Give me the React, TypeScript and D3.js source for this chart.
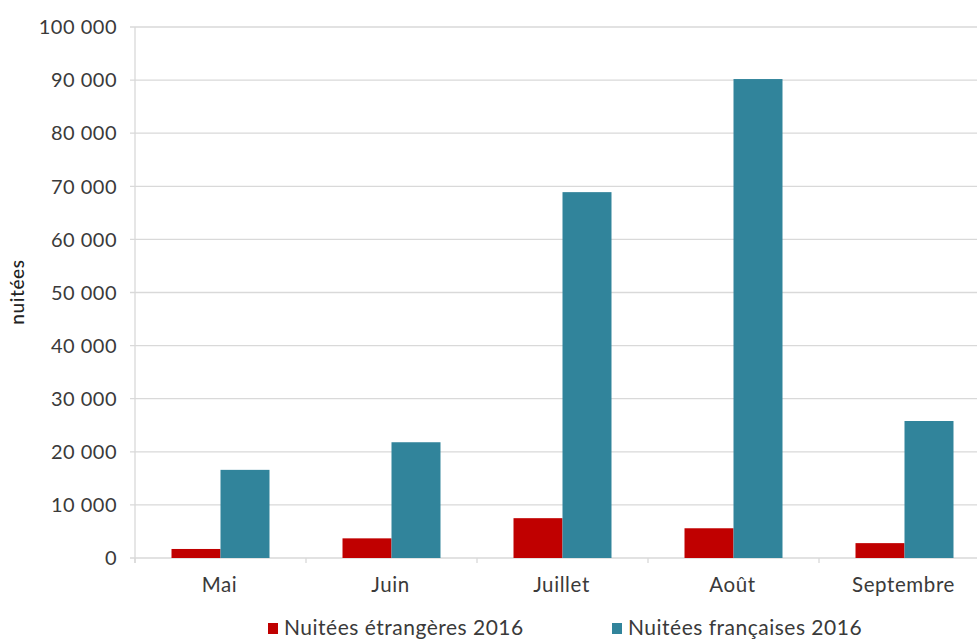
import React from "react";
import * as d3 from "d3";

const categories = ["Mai", "Juin", "Juillet", "Août", "Septembre"];
const etrangeres = [1700, 3700, 7500, 5600, 2800];
const francaises = [16600, 21800, 68900, 90200, 25800];
const yTicks = [0, 10000, 20000, 30000, 40000, 50000, 60000, 70000, 80000, 90000, 100000];
const seriesNames = ["Nuitées étrangères 2016", "Nuitées françaises 2016"];
const colors = ["#C00000", "#31849B"];

const W = 977;
const H = 639;
const left = 135;
const right = 990;
const top = 27;
const bottom = 558;
const font = "Lato, 'Open Sans', sans-serif";

export default function App() {
  const x = d3.scaleBand<string>().domain(categories).range([left, right]).paddingInner(0).paddingOuter(0);
  const inner = d3.scaleBand<number>().domain([0, 1]).range([0, x.bandwidth()]).paddingOuter(0.745).paddingInner(0);
  const y = d3.scaleLinear().domain([0, 100000]).range([bottom, top]);
  const fmt = (v: number) => d3.format(",")(v).replace(/,/g, " ");
  const series = [etrangeres, francaises];
  const boundaries = categories.map((c) => x(c) as number).concat([right]);

  return (
    <div style={{ position: "absolute", left: 0, top: 0 }}>
      <svg width={W} height={H} style={{ display: "block", fontFamily: font }}>
        <rect width={W} height={H} fill="#fff" />
        {yTicks.map((t) => (
          <g key={t}>
            <line x1={left - 5} x2={right} y1={y(t)} y2={y(t)} stroke="#d9d9d9" strokeWidth={1.3} />
            <text x={117} y={y(t)} dy="0.36em" textAnchor="end" fontSize={20} letterSpacing={0.5} fill="#3a3a3a">
              {fmt(t)}
            </text>
          </g>
        ))}
        <line x1={left} x2={left} y1={top} y2={bottom + 5} stroke="#d9d9d9" strokeWidth={1.3} />
        {boundaries.map((b, i) => (
          <line key={i} x1={b} x2={b} y1={bottom} y2={bottom + 5} stroke="#d9d9d9" strokeWidth={1.3} />
        ))}
        {series.map((vals, si) =>
          vals.map((v, ci) => (
            <rect
              key={`${si}-${ci}`}
              x={(x(categories[ci]) as number) + (inner(si) as number)}
              y={y(v)}
              width={inner.bandwidth()}
              height={y(0) - y(v)}
              fill={colors[si]}
            />
          ))
        )}
        {categories.map((c) => (
          <text key={c} x={(x(c) as number) + x.bandwidth() / 2 - 1} y={592} textAnchor="middle" fontSize={20.5} letterSpacing={0.6} fill="#3a3a3a">
            {c}
          </text>
        ))}
        <text
          transform={`translate(24, 292) rotate(-90)`}
          textAnchor="middle"
          fontSize={19}
          letterSpacing={0.6}
          fill="#222"
          fontWeight={500}
        >
          nuitées
        </text>
        {seriesNames.map((s, i) => {
          const lx = i === 0 ? 268 : 612;
          return (
            <g key={s}>
              <rect x={lx} y={623} width={10} height={11} fill={colors[i]} />
              <text x={lx + 16} y={635} fontSize={21} letterSpacing={0.5} fill="#3a3a3a">
                {s}
              </text>
            </g>
          );
        })}
      </svg>
    </div>
  );
}
